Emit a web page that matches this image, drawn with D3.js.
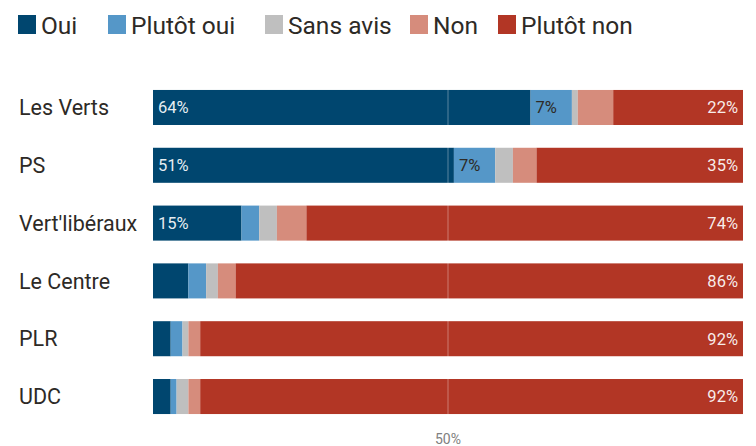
<!DOCTYPE html>
<html>
<head>
    <meta charset="utf-8">
    <title>Sondage par parti</title>
    <style>
        body { margin: 0; background: #fff; }
        text { font-family: Roboto, "Noto Sans", sans-serif; }
    </style>
</head>
<body>
    <script src="https://d3js.org/d3.v7.min.js"></script>
    <script>
    // Data (percent)
    const parties = ["Les Verts", "PS", "Vert'libéraux", "Le Centre", "PLR", "UDC"];
    const answers = ["Oui", "Plutôt oui", "Sans avis", "Non", "Plutôt non"];
    const oui       = [64, 51, 15, 6, 3, 3];
    const plutotOui = [7, 7, 3, 3, 2, 1];
    const sansAvis  = [1, 3, 3, 2, 1, 2];
    const non       = [6, 4, 5, 3, 2, 2];
    const plutotNon = [22, 35, 74, 86, 92, 92];
    const colors = ["#00466f", "#5597c8", "#bfbfbf", "#d68c7c", "#b23625"];
    const xTicks = [50];

    const width = 756, height = 446;
    const margin = { top: 78, right: 13, bottom: 20, left: 153 };

    // build rows for the stack
    const rows = parties.map((p, i) => ({
        party: p,
        "Oui": oui[i], "Plutôt oui": plutotOui[i], "Sans avis": sansAvis[i],
        "Non": non[i], "Plutôt non": plutotNon[i]
    }));
    rows.forEach(r => {
        // normalise to 100
        r.total = d3.sum(answers, a => r[a]);
    });

    const series = d3.stack().keys(answers)
        .value((d, k) => d[k] / d.total * 100)(rows);

    const svg = d3.select("body").append("svg")
        .attr("width", width)
        .attr("height", height);

    const x = d3.scaleLinear().domain([0, 100]).range([margin.left, width - margin.right]);
    const y = d3.scaleBand().domain(parties)
        .range([margin.top + 0.4, 425.6])
        .paddingInner(0.394).paddingOuter(0.2);

    const color = d3.scaleOrdinal().domain(answers).range(colors);

    // Legend
    const legendX = [18, 108, 265, 410, 498];
    const legend = svg.append("g").selectAll("g")
        .data(answers).join("g")
        .attr("transform", (d, i) => `translate(${legendX[i]},15)`);
    legend.append("rect")
        .attr("width", 18).attr("height", 19)
        .attr("fill", d => color(d));
    legend.append("text")
        .attr("x", 23).attr("y", 19)
        .attr("font-size", 24.5)
        .attr("fill", "#2d2a26")
        .text(d => d);

    // Bars
    const groups = svg.append("g").selectAll("g")
        .data(series).join("g")
        .attr("fill", d => color(d.key));
    groups.selectAll("rect")
        .data(d => d.map(v => ({ v, key: d.key })))
        .join("rect")
        .attr("x", d => x(d.v[0]))
        .attr("width", d => x(d.v[1]) - x(d.v[0]))
        .attr("y", d => y(d.v.data.party))
        .attr("height", y.bandwidth());

    // 50% grid line
    svg.append("g").selectAll("line")
        .data(xTicks).join("line")
        .attr("x1", d => x(d)).attr("x2", d => x(d))
        .attr("y1", margin.top).attr("y2", 420)
        .attr("stroke", "#fff").attr("stroke-opacity", 0.35).attr("stroke-width", 1);

    svg.append("g").selectAll("text")
        .data(xTicks).join("text")
        .attr("x", d => x(d)).attr("y", 444)
        .attr("text-anchor", "middle")
        .attr("font-size", 14)
        .attr("fill", "#808080")
        .text(d => d + "%");

    // Category labels
    svg.append("g").selectAll("text")
        .data(parties).join("text")
        .attr("x", 19)
        .attr("y", d => y(d) + y.bandwidth() / 2)
        .attr("dy", "0.36em")
        .attr("font-size", 21.5)
        .attr("fill", "#2d2a26")
        .text(d => d);

    // Value labels
    const labels = [];
    series.forEach(s => {
        s.forEach(v => {
            const val = v.data[s.key];
            if (s.key === "Oui" && val >= 10) {
                labels.push({ x: x(v[0]) + 5, anchor: "start", fill: "#fff", val, party: v.data.party });
            } else if (s.key === "Plutôt oui" && val >= 7) {
                labels.push({ x: x(v[0]) + 5, anchor: "start", fill: "#2d2a26", val, party: v.data.party });
            } else if (s.key === "Plutôt non") {
                labels.push({ x: x(v[1]) - 5, anchor: "end", fill: "#fff", val, party: v.data.party });
            }
        });
    });
    svg.append("g").selectAll("text")
        .data(labels).join("text")
        .attr("x", d => d.x)
        .attr("y", d => y(d.party) + y.bandwidth() / 2)
        .attr("dy", "0.36em")
        .attr("text-anchor", d => d.anchor)
        .attr("font-size", 16.5)
        .attr("fill", d => d.fill)
        .attr("fill-opacity", d => d.fill === "#fff" ? 0.92 : 1)
        .text(d => d.val + "%");
    </script>
</body>
</html>
